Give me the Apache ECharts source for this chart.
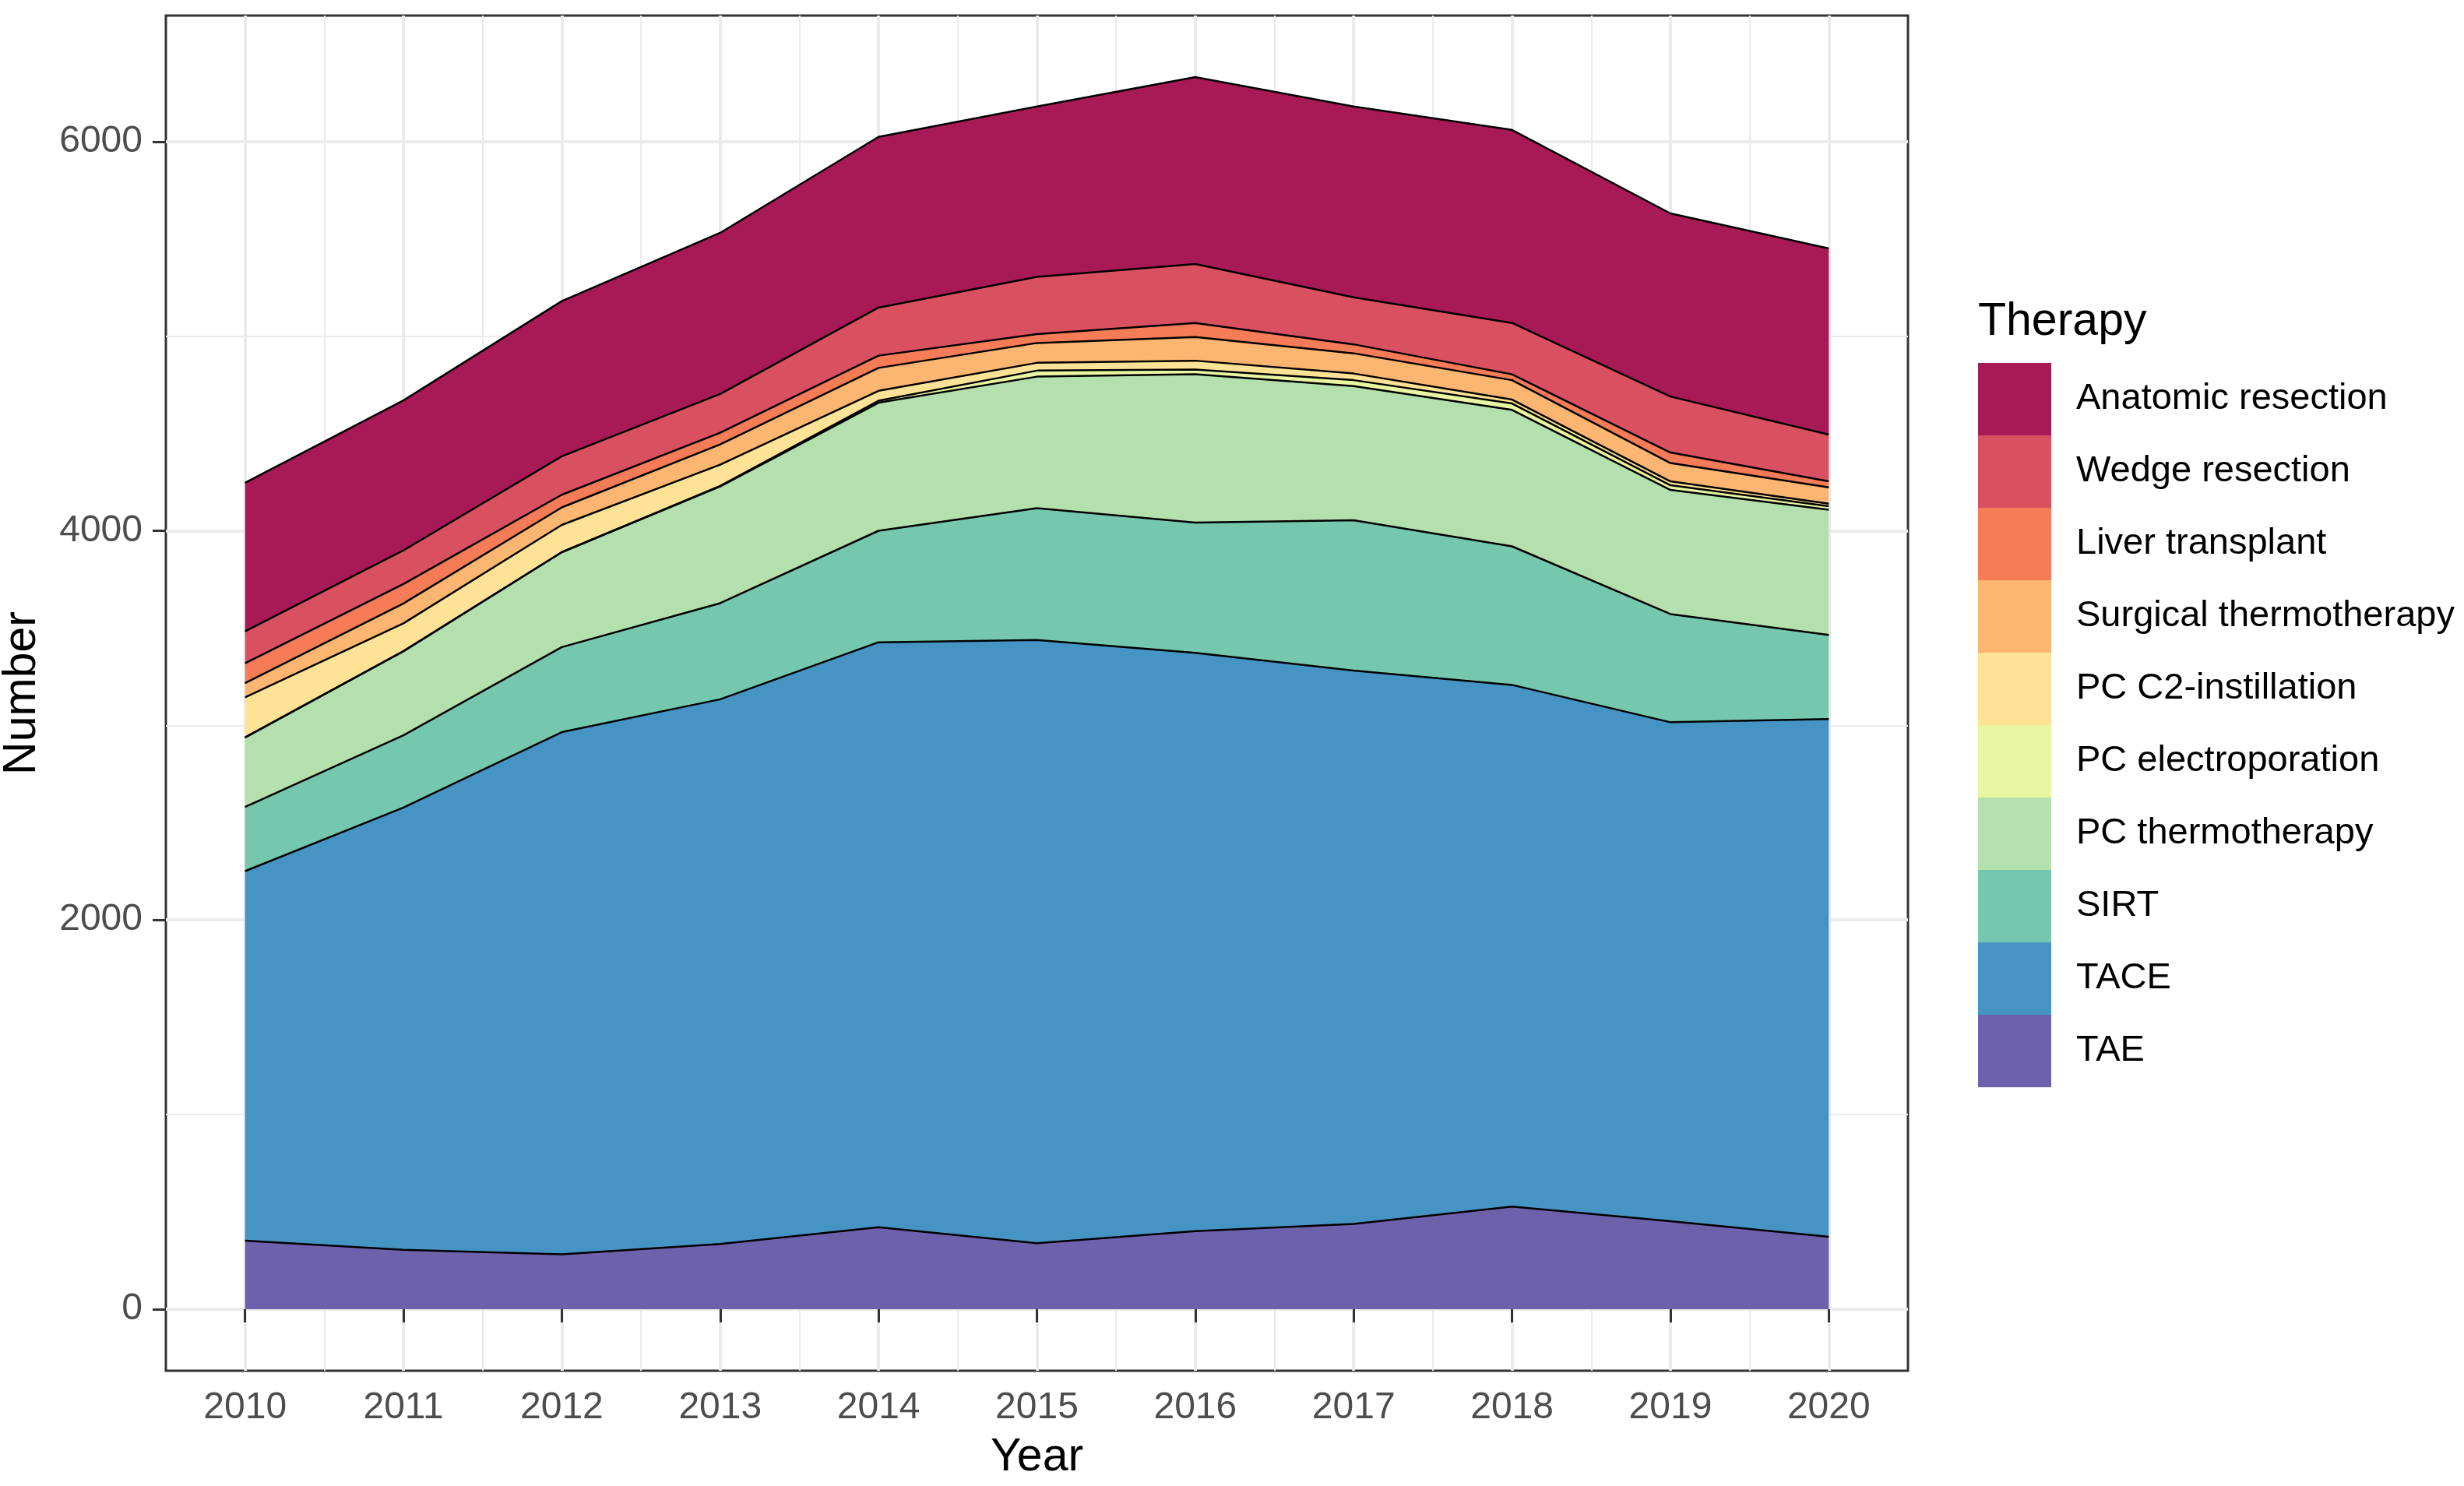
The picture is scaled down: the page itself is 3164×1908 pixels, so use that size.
<!DOCTYPE html>
<html>
<head>
<meta charset="utf-8">
<script src="https://cdn.jsdelivr.net/npm/echarts@6/dist/echarts.min.js"></script>
<style>
  html, body { margin: 0; padding: 0; background: #fff; }
  #chart { width: 3164px; height: 1908px; }
</style>
</head>
<body>
<div id="chart"></div>
<script>
// years on the x axis
var years = [2010, 2011, 2012, 2013, 2014, 2015, 2016, 2017, 2018, 2019, 2020];

// counts per therapy (stacked from bottom to top)
var tae        = [352, 305, 282, 335, 421, 339, 401, 438, 527, 452, 372];
var tace       = [1899, 2273, 2683, 2799, 3006, 3100, 2972, 2844, 2681, 2564, 2660];
var sirt       = [330, 371, 437, 494, 573, 677, 669, 772, 712, 556, 433];
var pcThermo   = [357, 432, 488, 600, 658, 676, 762, 689, 701, 638, 643];
var pcElectro  = [0, 0, 0, 3, 10, 31, 24, 31, 33, 24, 18];
var pcC2       = [206, 143, 140, 109, 51, 40, 46, 34, 20, 20, 13];
var surgThermo = [73, 102, 90, 104, 118, 102, 122, 104, 100, 94, 84];
var liverTx    = [102, 100, 65, 60, 63, 46, 72, 46, 30, 54, 31];
var wedgeRes   = [164, 173, 198, 199, 247, 294, 303, 242, 264, 288, 240];
var anatRes    = [764, 771, 797, 828, 877, 875, 960, 980, 992, 941, 957];

// tick labels
var yMajor = [0, 2000, 4000, 6000];
var yMinor = [1000, 3000, 5000];

var names = ['TAE', 'TACE', 'SIRT', 'PC thermotherapy', 'PC electroporation',
             'PC C2-instillation', 'Surgical thermotherapy', 'Liver transplant',
             'Wedge resection', 'Anatomic resection'];
var values = [tae, tace, sirt, pcThermo, pcElectro, pcC2, surgThermo, liverTx, wedgeRes, anatRes];
// Spectral palette at alpha 0.9 over white
var colors = ['#6E61AB', '#4694C4', '#75C8AE', '#B3E0AD', '#E8F6A2',
              '#FEE397', '#FDB671', '#F57C56', '#D95161', '#A81A55'];

var totals = years.map(function (y, i) {
    var s = 0;
    values.forEach(function (v) { s += v[i]; });
    return s;
});
var maxTotal = Math.max.apply(null, totals);
var pad = maxTotal * 0.05;

var font = '"Liberation Sans", Arial, sans-serif';
var xMinor = years.slice(0, -1).map(function (y) { return y + 0.5; });

var series = [];
// filled areas
names.forEach(function (n, k) {
    series.push({
        name: n,
        type: 'line',
        xAxisIndex: 2,
        stack: 'area',
        data: values[k],
        showSymbol: false,
        symbol: 'none',
        color: colors[k],
        lineStyle: { width: 0 },
        areaStyle: { color: colors[k], opacity: 1 },
        z: 2,
        silent: true
    });
});
// black outlines on top of every layer
names.forEach(function (n, k) {
    series.push({
        name: n + ' outline',
        type: 'line',
        xAxisIndex: 2,
        stack: 'outline',
        data: values[k],
        showSymbol: false,
        symbol: 'none',
        lineStyle: { color: '#000', width: 2.5 },
        z: 3,
        silent: true
    });
});

var legendData = names.slice().reverse().map(function (n) {
    return { name: n, itemStyle: { color: colors[names.indexOf(n)], borderWidth: 0 } };
});

var myChart = echarts.init(document.getElementById('chart'), null, { renderer: 'canvas' });

var option = {
    animation: false,
    backgroundColor: '#fff',
    title: {
        text: 'Therapy',
        left: 2540,
        top: 384,
        padding: 0,
        textStyle: { fontFamily: font, fontSize: 59, fontWeight: 'normal', color: '#000' }
    },
    legend: {
        orient: 'vertical',
        left: 2540,
        top: 466,
        padding: 0,
        itemGap: 0,
        itemWidth: 94,
        itemHeight: 93,
        icon: 'rect',
        selectedMode: false,
        data: legendData,
        textStyle: { fontFamily: font, fontSize: 47, color: '#000', padding: [8, 0, 0, 27] }
    },
    grid: {
        left: 213,
        right: 714,
        top: 20,
        bottom: 148,
        outerBoundsMode: 'none',
        containLabel: false,
        show: true,
        borderColor: '#333333',
        borderWidth: 3,
        backgroundColor: '#fff'
    },
    xAxis: [{
        type: 'value',
        min: years[0] - 0.5,
        max: years[years.length - 1] + 0.5,
        name: 'Year',
        nameLocation: 'middle',
        nameGap: 82,
        nameTextStyle: { fontFamily: font, fontSize: 59, color: '#000' },
        axisLine: { show: false },
        axisTick: { show: true, length: 17, customValues: years, lineStyle: { color: '#333333', width: 3 } },
        axisLabel: {
            customValues: years, margin: 24, fontFamily: font, fontSize: 48, color: '#4D4D4D',
            formatter: function (v) { return String(v); }
        },
        splitLine: { show: true, lineStyle: { color: '#EBEBEB', width: 4 } }
    }, {
        type: 'value',
        min: years[0] - 0.5,
        max: years[years.length - 1] + 0.5,
        position: 'bottom',
        axisLine: { show: false },
        axisTick: { show: false, customValues: xMinor },
        axisLabel: { show: false, customValues: xMinor },
        splitLine: { show: true, lineStyle: { color: '#EBEBEB', width: 2 } }
    }, {
        // data axis: one band per year, centred on the year
        type: 'category',
        data: years.map(String),
        boundaryGap: true,
        position: 'bottom',
        axisLine: { show: false },
        axisTick: { show: false },
        axisLabel: { show: false },
        splitLine: { show: false }
    }],
    yAxis: [{
        type: 'value',
        min: -pad,
        max: maxTotal + pad,
        name: 'Number',
        nameLocation: 'middle',
        nameGap: 155,
        nameRotate: 90,
        nameTextStyle: { fontFamily: font, fontSize: 59, color: '#000' },
        axisLine: { show: false },
        axisTick: { show: true, length: 17, customValues: yMajor, lineStyle: { color: '#333333', width: 3 } },
        axisLabel: {
            customValues: yMajor, margin: 30, fontFamily: font, fontSize: 48, color: '#4D4D4D',
            formatter: function (v) { return String(v); }
        },
        splitLine: { show: true, lineStyle: { color: '#EBEBEB', width: 4 } }
    }, {
        type: 'value',
        min: -pad,
        max: maxTotal + pad,
        position: 'left',
        axisLine: { show: false },
        axisTick: { show: false, customValues: yMinor },
        axisLabel: { show: false, customValues: yMinor },
        splitLine: { show: true, lineStyle: { color: '#EBEBEB', width: 2 } }
    }],
    series: series
};

myChart.setOption(option);
</script>
</body>
</html>
